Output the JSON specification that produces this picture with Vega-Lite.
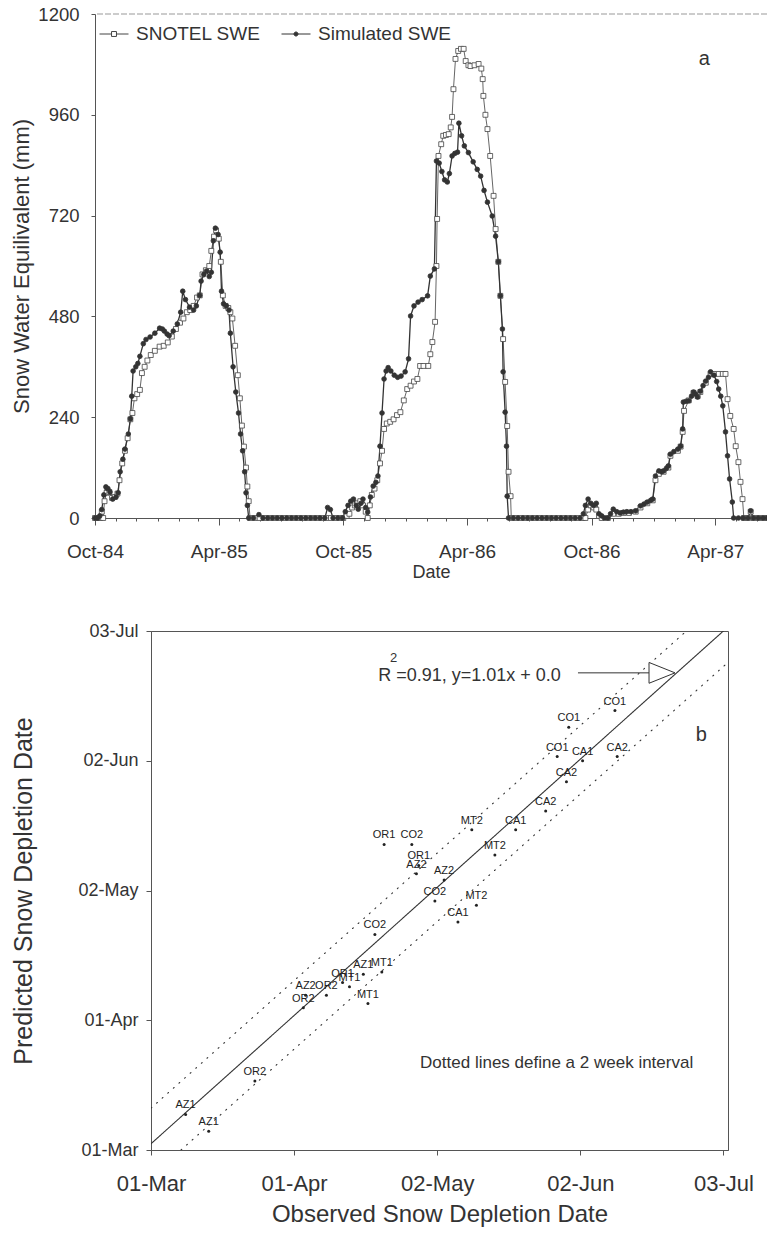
{
  "$schema": "https://vega.github.io/schema/vega-lite/v6.json",
  "padding": {"left": 10, "top": 5, "right": 0, "bottom": 0},
  "config": {
    "font": "Liberation Sans",
    "view": {"stroke": null},
    "axis": {"labelColor": "#333", "titleColor": "#333", "domainColor": "#555", "tickColor": "#555", "grid": false, "titleFontWeight": "normal", "labelFlush": false, "labelOverlap": false}
  },
  "datasets": {
    "swe": [
      {"date":"1984-10-01","swe":0,"series":"SNOTEL SWE"},{"date":"1984-10-05","swe":0,"series":"SNOTEL SWE"},{"date":"1984-10-09","swe":0,"series":"SNOTEL SWE"},{"date":"1984-10-11","swe":15,"series":"SNOTEL SWE"},{"date":"1984-10-13","swe":0,"series":"SNOTEL SWE"},{"date":"1984-10-15","swe":40,"series":"SNOTEL SWE"},{"date":"1984-10-18","swe":60,"series":"SNOTEL SWE"},{"date":"1984-10-22","swe":62,"series":"SNOTEL SWE"},{"date":"1984-10-26","swe":48,"series":"SNOTEL SWE"},{"date":"1984-10-30","swe":50,"series":"SNOTEL SWE"},{"date":"1984-11-03","swe":58,"series":"SNOTEL SWE"},{"date":"1984-11-06","swe":90,"series":"SNOTEL SWE"},{"date":"1984-11-10","swe":130,"series":"SNOTEL SWE"},{"date":"1984-11-14","swe":160,"series":"SNOTEL SWE"},{"date":"1984-11-18","swe":190,"series":"SNOTEL SWE"},{"date":"1984-11-22","swe":235,"series":"SNOTEL SWE"},{"date":"1984-11-25","swe":250,"series":"SNOTEL SWE"},{"date":"1984-11-28","swe":285,"series":"SNOTEL SWE"},{"date":"1984-12-02","swe":295,"series":"SNOTEL SWE"},{"date":"1984-12-06","swe":305,"series":"SNOTEL SWE"},{"date":"1984-12-09","swe":345,"series":"SNOTEL SWE"},{"date":"1984-12-13","swe":360,"series":"SNOTEL SWE"},{"date":"1984-12-17","swe":375,"series":"SNOTEL SWE"},{"date":"1984-12-22","swe":388,"series":"SNOTEL SWE"},{"date":"1984-12-28","swe":398,"series":"SNOTEL SWE"},{"date":"1985-01-04","swe":408,"series":"SNOTEL SWE"},{"date":"1985-01-10","swe":410,"series":"SNOTEL SWE"},{"date":"1985-01-16","swe":418,"series":"SNOTEL SWE"},{"date":"1985-01-22","swe":432,"series":"SNOTEL SWE"},{"date":"1985-01-28","swe":450,"series":"SNOTEL SWE"},{"date":"1985-02-03","swe":465,"series":"SNOTEL SWE"},{"date":"1985-02-08","swe":475,"series":"SNOTEL SWE"},{"date":"1985-02-13","swe":490,"series":"SNOTEL SWE"},{"date":"1985-02-18","swe":495,"series":"SNOTEL SWE"},{"date":"1985-02-23","swe":505,"series":"SNOTEL SWE"},{"date":"1985-02-28","swe":525,"series":"SNOTEL SWE"},{"date":"1985-03-04","swe":530,"series":"SNOTEL SWE"},{"date":"1985-03-08","swe":580,"series":"SNOTEL SWE"},{"date":"1985-03-13","swe":590,"series":"SNOTEL SWE"},{"date":"1985-03-18","swe":600,"series":"SNOTEL SWE"},{"date":"1985-03-21","swe":636,"series":"SNOTEL SWE"},{"date":"1985-03-25","swe":670,"series":"SNOTEL SWE"},{"date":"1985-03-28","swe":685,"series":"SNOTEL SWE"},{"date":"1985-04-01","swe":665,"series":"SNOTEL SWE"},{"date":"1985-04-04","swe":610,"series":"SNOTEL SWE"},{"date":"1985-04-07","swe":530,"series":"SNOTEL SWE"},{"date":"1985-04-11","swe":505,"series":"SNOTEL SWE"},{"date":"1985-04-15","swe":500,"series":"SNOTEL SWE"},{"date":"1985-04-18","swe":490,"series":"SNOTEL SWE"},{"date":"1985-04-21","swe":475,"series":"SNOTEL SWE"},{"date":"1985-04-25","swe":410,"series":"SNOTEL SWE"},{"date":"1985-04-29","swe":340,"series":"SNOTEL SWE"},{"date":"1985-05-02","swe":285,"series":"SNOTEL SWE"},{"date":"1985-05-05","swe":220,"series":"SNOTEL SWE"},{"date":"1985-05-08","swe":170,"series":"SNOTEL SWE"},{"date":"1985-05-11","swe":120,"series":"SNOTEL SWE"},{"date":"1985-05-13","swe":75,"series":"SNOTEL SWE"},{"date":"1985-05-15","swe":40,"series":"SNOTEL SWE"},{"date":"1985-05-17","swe":0,"series":"SNOTEL SWE"},
      {"date":"1985-05-24","swe":0,"series":"SNOTEL SWE"},{"date":"1985-05-31","swe":0,"series":"SNOTEL SWE"},{"date":"1985-06-07","swe":0,"series":"SNOTEL SWE"},{"date":"1985-06-14","swe":0,"series":"SNOTEL SWE"},{"date":"1985-06-21","swe":0,"series":"SNOTEL SWE"},{"date":"1985-06-28","swe":0,"series":"SNOTEL SWE"},{"date":"1985-07-05","swe":0,"series":"SNOTEL SWE"},{"date":"1985-07-12","swe":0,"series":"SNOTEL SWE"},{"date":"1985-07-19","swe":0,"series":"SNOTEL SWE"},{"date":"1985-07-26","swe":0,"series":"SNOTEL SWE"},{"date":"1985-08-02","swe":0,"series":"SNOTEL SWE"},{"date":"1985-08-09","swe":0,"series":"SNOTEL SWE"},{"date":"1985-08-16","swe":0,"series":"SNOTEL SWE"},{"date":"1985-08-23","swe":0,"series":"SNOTEL SWE"},{"date":"1985-08-30","swe":0,"series":"SNOTEL SWE"},{"date":"1985-09-06","swe":0,"series":"SNOTEL SWE"},{"date":"1985-09-13","swe":0,"series":"SNOTEL SWE"},{"date":"1985-09-20","swe":0,"series":"SNOTEL SWE"},{"date":"1985-09-27","swe":0,"series":"SNOTEL SWE"},
      {"date":"1985-10-01","swe":0,"series":"SNOTEL SWE"},{"date":"1985-10-06","swe":5,"series":"SNOTEL SWE"},{"date":"1985-10-10","swe":10,"series":"SNOTEL SWE"},{"date":"1985-10-14","swe":25,"series":"SNOTEL SWE"},{"date":"1985-10-18","swe":30,"series":"SNOTEL SWE"},{"date":"1985-10-22","swe":35,"series":"SNOTEL SWE"},{"date":"1985-10-26","swe":40,"series":"SNOTEL SWE"},{"date":"1985-10-30","swe":30,"series":"SNOTEL SWE"},{"date":"1985-11-03","swe":15,"series":"SNOTEL SWE"},{"date":"1985-11-06","swe":0,"series":"SNOTEL SWE"},{"date":"1985-11-09","swe":30,"series":"SNOTEL SWE"},{"date":"1985-11-12","swe":55,"series":"SNOTEL SWE"},{"date":"1985-11-16","swe":70,"series":"SNOTEL SWE"},{"date":"1985-11-20","swe":90,"series":"SNOTEL SWE"},{"date":"1985-11-24","swe":130,"series":"SNOTEL SWE"},{"date":"1985-11-27","swe":160,"series":"SNOTEL SWE"},{"date":"1985-11-30","swe":212,"series":"SNOTEL SWE"},{"date":"1985-12-04","swe":225,"series":"SNOTEL SWE"},{"date":"1985-12-09","swe":229,"series":"SNOTEL SWE"},{"date":"1985-12-14","swe":235,"series":"SNOTEL SWE"},{"date":"1985-12-19","swe":245,"series":"SNOTEL SWE"},{"date":"1985-12-24","swe":252,"series":"SNOTEL SWE"},{"date":"1985-12-29","swe":280,"series":"SNOTEL SWE"},{"date":"1986-01-03","swe":307,"series":"SNOTEL SWE"},{"date":"1986-01-08","swe":315,"series":"SNOTEL SWE"},{"date":"1986-01-13","swe":325,"series":"SNOTEL SWE"},{"date":"1986-01-18","swe":331,"series":"SNOTEL SWE"},{"date":"1986-01-22","swe":362,"series":"SNOTEL SWE"},{"date":"1986-01-27","swe":362,"series":"SNOTEL SWE"},{"date":"1986-02-03","swe":362,"series":"SNOTEL SWE"},{"date":"1986-02-06","swe":390,"series":"SNOTEL SWE"},{"date":"1986-02-09","swe":419,"series":"SNOTEL SWE"},{"date":"1986-02-13","swe":467,"series":"SNOTEL SWE"},{"date":"1986-02-15","swe":600,"series":"SNOTEL SWE"},{"date":"1986-02-16","swe":712,"series":"SNOTEL SWE"},{"date":"1986-02-18","swe":862,"series":"SNOTEL SWE"},{"date":"1986-02-22","swe":890,"series":"SNOTEL SWE"},{"date":"1986-02-25","swe":910,"series":"SNOTEL SWE"},{"date":"1986-03-01","swe":912,"series":"SNOTEL SWE"},{"date":"1986-03-05","swe":914,"series":"SNOTEL SWE"},{"date":"1986-03-08","swe":930,"series":"SNOTEL SWE"},{"date":"1986-03-10","swe":955,"series":"SNOTEL SWE"},{"date":"1986-03-12","swe":1021,"series":"SNOTEL SWE"},{"date":"1986-03-15","swe":1093,"series":"SNOTEL SWE"},{"date":"1986-03-19","swe":1112,"series":"SNOTEL SWE"},{"date":"1986-03-23","swe":1117,"series":"SNOTEL SWE"},{"date":"1986-03-27","swe":1117,"series":"SNOTEL SWE"},{"date":"1986-03-30","swe":1088,"series":"SNOTEL SWE"},{"date":"1986-04-03","swe":1078,"series":"SNOTEL SWE"},{"date":"1986-04-06","swe":1076,"series":"SNOTEL SWE"},{"date":"1986-04-12","swe":1078,"series":"SNOTEL SWE"},{"date":"1986-04-18","swe":1081,"series":"SNOTEL SWE"},{"date":"1986-04-22","swe":1070,"series":"SNOTEL SWE"},{"date":"1986-04-24","swe":1045,"series":"SNOTEL SWE"},{"date":"1986-04-25","swe":1005,"series":"SNOTEL SWE"},{"date":"1986-04-28","swe":960,"series":"SNOTEL SWE"},{"date":"1986-05-01","swe":926,"series":"SNOTEL SWE"},{"date":"1986-05-05","swe":862,"series":"SNOTEL SWE"},{"date":"1986-05-10","swe":767,"series":"SNOTEL SWE"},{"date":"1986-05-13","swe":688,"series":"SNOTEL SWE"},{"date":"1986-05-17","swe":610,"series":"SNOTEL SWE"},{"date":"1986-05-20","swe":529,"series":"SNOTEL SWE"},{"date":"1986-05-24","swe":426,"series":"SNOTEL SWE"},{"date":"1986-05-27","swe":324,"series":"SNOTEL SWE"},{"date":"1986-05-30","swe":219,"series":"SNOTEL SWE"},{"date":"1986-06-01","swe":110,"series":"SNOTEL SWE"},{"date":"1986-06-04","swe":52,"series":"SNOTEL SWE"},{"date":"1986-06-05","swe":0,"series":"SNOTEL SWE"},
      {"date":"1986-06-12","swe":0,"series":"SNOTEL SWE"},{"date":"1986-06-19","swe":0,"series":"SNOTEL SWE"},{"date":"1986-06-26","swe":0,"series":"SNOTEL SWE"},{"date":"1986-07-03","swe":0,"series":"SNOTEL SWE"},{"date":"1986-07-10","swe":0,"series":"SNOTEL SWE"},{"date":"1986-07-17","swe":0,"series":"SNOTEL SWE"},{"date":"1986-07-24","swe":0,"series":"SNOTEL SWE"},{"date":"1986-07-31","swe":0,"series":"SNOTEL SWE"},{"date":"1986-08-07","swe":0,"series":"SNOTEL SWE"},{"date":"1986-08-14","swe":0,"series":"SNOTEL SWE"},{"date":"1986-08-21","swe":0,"series":"SNOTEL SWE"},{"date":"1986-08-28","swe":0,"series":"SNOTEL SWE"},{"date":"1986-09-04","swe":0,"series":"SNOTEL SWE"},{"date":"1986-09-11","swe":0,"series":"SNOTEL SWE"},{"date":"1986-09-18","swe":0,"series":"SNOTEL SWE"},
      {"date":"1986-09-22","swe":0,"series":"SNOTEL SWE"},{"date":"1986-09-26","swe":20,"series":"SNOTEL SWE"},{"date":"1986-09-30","swe":30,"series":"SNOTEL SWE"},{"date":"1986-10-04","swe":25,"series":"SNOTEL SWE"},{"date":"1986-10-08","swe":20,"series":"SNOTEL SWE"},{"date":"1986-10-12","swe":5,"series":"SNOTEL SWE"},{"date":"1986-10-16","swe":0,"series":"SNOTEL SWE"},{"date":"1986-10-25","swe":0,"series":"SNOTEL SWE"},{"date":"1986-11-02","swe":10,"series":"SNOTEL SWE"},{"date":"1986-11-10","swe":10,"series":"SNOTEL SWE"},{"date":"1986-11-17","swe":12,"series":"SNOTEL SWE"},{"date":"1986-11-25","swe":12,"series":"SNOTEL SWE"},{"date":"1986-12-05","swe":15,"series":"SNOTEL SWE"},{"date":"1986-12-12","swe":25,"series":"SNOTEL SWE"},{"date":"1986-12-22","swe":35,"series":"SNOTEL SWE"},{"date":"1986-12-30","swe":42,"series":"SNOTEL SWE"},{"date":"1987-01-03","swe":90,"series":"SNOTEL SWE"},{"date":"1987-01-08","swe":105,"series":"SNOTEL SWE"},{"date":"1987-01-15","swe":110,"series":"SNOTEL SWE"},{"date":"1987-01-22","swe":120,"series":"SNOTEL SWE"},{"date":"1987-01-25","swe":148,"series":"SNOTEL SWE"},{"date":"1987-02-05","swe":160,"series":"SNOTEL SWE"},{"date":"1987-02-09","swe":170,"series":"SNOTEL SWE"},{"date":"1987-02-12","swe":205,"series":"SNOTEL SWE"},{"date":"1987-02-14","swe":255,"series":"SNOTEL SWE"},{"date":"1987-02-21","swe":280,"series":"SNOTEL SWE"},{"date":"1987-02-28","swe":298,"series":"SNOTEL SWE"},{"date":"1987-03-06","swe":290,"series":"SNOTEL SWE"},{"date":"1987-03-10","swe":300,"series":"SNOTEL SWE"},{"date":"1987-03-18","swe":322,"series":"SNOTEL SWE"},{"date":"1987-03-25","swe":343,"series":"SNOTEL SWE"},{"date":"1987-03-30","swe":343,"series":"SNOTEL SWE"},{"date":"1987-04-06","swe":343,"series":"SNOTEL SWE"},{"date":"1987-04-12","swe":343,"series":"SNOTEL SWE"},{"date":"1987-04-16","swe":343,"series":"SNOTEL SWE"},{"date":"1987-04-19","swe":283,"series":"SNOTEL SWE"},{"date":"1987-04-23","swe":243,"series":"SNOTEL SWE"},{"date":"1987-04-28","swe":212,"series":"SNOTEL SWE"},{"date":"1987-05-01","swe":171,"series":"SNOTEL SWE"},{"date":"1987-05-05","swe":133,"series":"SNOTEL SWE"},{"date":"1987-05-08","swe":86,"series":"SNOTEL SWE"},{"date":"1987-05-11","swe":45,"series":"SNOTEL SWE"},{"date":"1987-05-13","swe":0,"series":"SNOTEL SWE"},{"date":"1987-05-19","swe":0,"series":"SNOTEL SWE"},{"date":"1987-05-23","swe":15,"series":"SNOTEL SWE"},{"date":"1987-05-27","swe":0,"series":"SNOTEL SWE"},{"date":"1987-06-03","swe":0,"series":"SNOTEL SWE"},{"date":"1987-06-10","swe":0,"series":"SNOTEL SWE"},{"date":"1987-06-16","swe":0,"series":"SNOTEL SWE"},

      {"date":"1984-10-01","swe":0,"series":"Simulated SWE"},{"date":"1984-10-05","swe":0,"series":"Simulated SWE"},{"date":"1984-10-08","swe":5,"series":"Simulated SWE"},{"date":"1984-10-11","swe":20,"series":"Simulated SWE"},{"date":"1984-10-14","swe":55,"series":"Simulated SWE"},{"date":"1984-10-17","swe":74,"series":"Simulated SWE"},{"date":"1984-10-20","swe":70,"series":"Simulated SWE"},{"date":"1984-10-23","swe":62,"series":"Simulated SWE"},{"date":"1984-10-27","swe":45,"series":"Simulated SWE"},{"date":"1984-11-01","swe":50,"series":"Simulated SWE"},{"date":"1984-11-04","swe":60,"series":"Simulated SWE"},{"date":"1984-11-07","swe":110,"series":"Simulated SWE"},{"date":"1984-11-11","swe":140,"series":"Simulated SWE"},{"date":"1984-11-14","swe":164,"series":"Simulated SWE"},{"date":"1984-11-19","swe":200,"series":"Simulated SWE"},{"date":"1984-11-22","swe":236,"series":"Simulated SWE"},{"date":"1984-11-24","swe":290,"series":"Simulated SWE"},{"date":"1984-11-26","swe":350,"series":"Simulated SWE"},{"date":"1984-11-30","swe":360,"series":"Simulated SWE"},{"date":"1984-12-03","swe":368,"series":"Simulated SWE"},{"date":"1984-12-06","swe":385,"series":"Simulated SWE"},{"date":"1984-12-11","swe":415,"series":"Simulated SWE"},{"date":"1984-12-15","swe":425,"series":"Simulated SWE"},{"date":"1984-12-21","swe":431,"series":"Simulated SWE"},{"date":"1984-12-28","swe":440,"series":"Simulated SWE"},{"date":"1985-01-04","swe":452,"series":"Simulated SWE"},{"date":"1985-01-08","swe":450,"series":"Simulated SWE"},{"date":"1985-01-11","swe":445,"series":"Simulated SWE"},{"date":"1985-01-15","swe":438,"series":"Simulated SWE"},{"date":"1985-01-18","swe":434,"series":"Simulated SWE"},{"date":"1985-01-24","swe":445,"series":"Simulated SWE"},{"date":"1985-01-30","swe":462,"series":"Simulated SWE"},{"date":"1985-02-04","swe":490,"series":"Simulated SWE"},{"date":"1985-02-07","swe":540,"series":"Simulated SWE"},{"date":"1985-02-11","swe":520,"series":"Simulated SWE"},{"date":"1985-02-17","swe":502,"series":"Simulated SWE"},{"date":"1985-02-23","swe":495,"series":"Simulated SWE"},{"date":"1985-02-27","swe":505,"series":"Simulated SWE"},{"date":"1985-03-04","swe":530,"series":"Simulated SWE"},{"date":"1985-03-06","swe":564,"series":"Simulated SWE"},{"date":"1985-03-10","swe":580,"series":"Simulated SWE"},{"date":"1985-03-14","swe":588,"series":"Simulated SWE"},{"date":"1985-03-18","swe":575,"series":"Simulated SWE"},{"date":"1985-03-21","swe":585,"series":"Simulated SWE"},{"date":"1985-03-24","swe":660,"series":"Simulated SWE"},{"date":"1985-03-27","swe":690,"series":"Simulated SWE"},{"date":"1985-03-31","swe":675,"series":"Simulated SWE"},{"date":"1985-04-03","swe":633,"series":"Simulated SWE"},{"date":"1985-04-05","swe":540,"series":"Simulated SWE"},{"date":"1985-04-08","swe":510,"series":"Simulated SWE"},{"date":"1985-04-12","swe":505,"series":"Simulated SWE"},{"date":"1985-04-16","swe":495,"series":"Simulated SWE"},{"date":"1985-04-18","swe":440,"series":"Simulated SWE"},{"date":"1985-04-22","swe":360,"series":"Simulated SWE"},{"date":"1985-04-26","swe":300,"series":"Simulated SWE"},{"date":"1985-04-30","swe":250,"series":"Simulated SWE"},{"date":"1985-05-03","swe":200,"series":"Simulated SWE"},{"date":"1985-05-06","swe":160,"series":"Simulated SWE"},{"date":"1985-05-09","swe":110,"series":"Simulated SWE"},{"date":"1985-05-11","swe":60,"series":"Simulated SWE"},{"date":"1985-05-13","swe":30,"series":"Simulated SWE"},{"date":"1985-05-15","swe":0,"series":"Simulated SWE"},
      {"date":"1985-05-22","swe":0,"series":"Simulated SWE"},{"date":"1985-05-30","swe":8,"series":"Simulated SWE"},{"date":"1985-06-05","swe":0,"series":"Simulated SWE"},{"date":"1985-06-12","swe":0,"series":"Simulated SWE"},{"date":"1985-06-19","swe":0,"series":"Simulated SWE"},{"date":"1985-06-26","swe":0,"series":"Simulated SWE"},{"date":"1985-07-03","swe":0,"series":"Simulated SWE"},{"date":"1985-07-10","swe":0,"series":"Simulated SWE"},{"date":"1985-07-17","swe":0,"series":"Simulated SWE"},{"date":"1985-07-24","swe":0,"series":"Simulated SWE"},{"date":"1985-07-31","swe":0,"series":"Simulated SWE"},{"date":"1985-08-07","swe":0,"series":"Simulated SWE"},{"date":"1985-08-14","swe":0,"series":"Simulated SWE"},{"date":"1985-08-21","swe":0,"series":"Simulated SWE"},{"date":"1985-08-28","swe":0,"series":"Simulated SWE"},{"date":"1985-09-04","swe":0,"series":"Simulated SWE"},{"date":"1985-09-08","swe":25,"series":"Simulated SWE"},{"date":"1985-09-12","swe":20,"series":"Simulated SWE"},{"date":"1985-09-16","swe":0,"series":"Simulated SWE"},{"date":"1985-09-23","swe":0,"series":"Simulated SWE"},{"date":"1985-09-30","swe":0,"series":"Simulated SWE"},
      {"date":"1985-10-04","swe":15,"series":"Simulated SWE"},{"date":"1985-10-08","swe":30,"series":"Simulated SWE"},{"date":"1985-10-12","swe":40,"series":"Simulated SWE"},{"date":"1985-10-16","swe":45,"series":"Simulated SWE"},{"date":"1985-10-20","swe":30,"series":"Simulated SWE"},{"date":"1985-10-23","swe":21,"series":"Simulated SWE"},{"date":"1985-10-27","swe":35,"series":"Simulated SWE"},{"date":"1985-10-30","swe":45,"series":"Simulated SWE"},{"date":"1985-11-03","swe":25,"series":"Simulated SWE"},{"date":"1985-11-06","swe":14,"series":"Simulated SWE"},{"date":"1985-11-10","swe":50,"series":"Simulated SWE"},{"date":"1985-11-14","swe":76,"series":"Simulated SWE"},{"date":"1985-11-18","swe":85,"series":"Simulated SWE"},{"date":"1985-11-21","swe":100,"series":"Simulated SWE"},{"date":"1985-11-24","swe":171,"series":"Simulated SWE"},{"date":"1985-11-27","swe":250,"series":"Simulated SWE"},{"date":"1985-11-30","swe":331,"series":"Simulated SWE"},{"date":"1985-12-03","swe":350,"series":"Simulated SWE"},{"date":"1985-12-06","swe":358,"series":"Simulated SWE"},{"date":"1985-12-10","swe":350,"series":"Simulated SWE"},{"date":"1985-12-15","swe":340,"series":"Simulated SWE"},{"date":"1985-12-20","swe":335,"series":"Simulated SWE"},{"date":"1985-12-25","swe":338,"series":"Simulated SWE"},{"date":"1985-12-31","swe":348,"series":"Simulated SWE"},{"date":"1986-01-05","swe":379,"series":"Simulated SWE"},{"date":"1986-01-08","swe":481,"series":"Simulated SWE"},{"date":"1986-01-13","swe":505,"series":"Simulated SWE"},{"date":"1986-01-19","swe":514,"series":"Simulated SWE"},{"date":"1986-01-25","swe":520,"series":"Simulated SWE"},{"date":"1986-02-02","swe":529,"series":"Simulated SWE"},{"date":"1986-02-06","swe":576,"series":"Simulated SWE"},{"date":"1986-02-12","swe":593,"series":"Simulated SWE"},{"date":"1986-02-15","swe":850,"series":"Simulated SWE"},{"date":"1986-02-19","swe":845,"series":"Simulated SWE"},{"date":"1986-02-23","swe":825,"series":"Simulated SWE"},{"date":"1986-02-27","swe":805,"series":"Simulated SWE"},{"date":"1986-03-03","swe":800,"series":"Simulated SWE"},{"date":"1986-03-06","swe":820,"series":"Simulated SWE"},{"date":"1986-03-10","swe":862,"series":"Simulated SWE"},{"date":"1986-03-14","swe":868,"series":"Simulated SWE"},{"date":"1986-03-18","swe":871,"series":"Simulated SWE"},{"date":"1986-03-20","swe":940,"series":"Simulated SWE"},{"date":"1986-03-24","swe":910,"series":"Simulated SWE"},{"date":"1986-03-28","swe":886,"series":"Simulated SWE"},{"date":"1986-04-03","swe":870,"series":"Simulated SWE"},{"date":"1986-04-10","swe":848,"series":"Simulated SWE"},{"date":"1986-04-16","swe":830,"series":"Simulated SWE"},{"date":"1986-04-21","swe":814,"series":"Simulated SWE"},{"date":"1986-04-26","swe":780,"series":"Simulated SWE"},{"date":"1986-05-01","swe":752,"series":"Simulated SWE"},{"date":"1986-05-08","swe":719,"series":"Simulated SWE"},{"date":"1986-05-13","swe":671,"series":"Simulated SWE"},{"date":"1986-05-17","swe":610,"series":"Simulated SWE"},{"date":"1986-05-20","swe":529,"series":"Simulated SWE"},{"date":"1986-05-23","swe":450,"series":"Simulated SWE"},{"date":"1986-05-24","swe":348,"series":"Simulated SWE"},{"date":"1986-05-27","swe":252,"series":"Simulated SWE"},{"date":"1986-05-29","swe":171,"series":"Simulated SWE"},{"date":"1986-05-30","swe":52,"series":"Simulated SWE"},{"date":"1986-06-01","swe":0,"series":"Simulated SWE"},
      {"date":"1986-06-08","swe":0,"series":"Simulated SWE"},{"date":"1986-06-15","swe":0,"series":"Simulated SWE"},{"date":"1986-06-22","swe":0,"series":"Simulated SWE"},{"date":"1986-06-29","swe":0,"series":"Simulated SWE"},{"date":"1986-07-06","swe":0,"series":"Simulated SWE"},{"date":"1986-07-13","swe":0,"series":"Simulated SWE"},{"date":"1986-07-20","swe":0,"series":"Simulated SWE"},{"date":"1986-07-27","swe":0,"series":"Simulated SWE"},{"date":"1986-08-03","swe":0,"series":"Simulated SWE"},{"date":"1986-08-10","swe":0,"series":"Simulated SWE"},{"date":"1986-08-17","swe":0,"series":"Simulated SWE"},{"date":"1986-08-24","swe":0,"series":"Simulated SWE"},{"date":"1986-08-31","swe":0,"series":"Simulated SWE"},{"date":"1986-09-07","swe":0,"series":"Simulated SWE"},{"date":"1986-09-14","swe":0,"series":"Simulated SWE"},
      {"date":"1986-09-19","swe":10,"series":"Simulated SWE"},{"date":"1986-09-22","swe":30,"series":"Simulated SWE"},{"date":"1986-09-26","swe":45,"series":"Simulated SWE"},{"date":"1986-09-30","swe":35,"series":"Simulated SWE"},{"date":"1986-10-04","swe":30,"series":"Simulated SWE"},{"date":"1986-10-08","swe":35,"series":"Simulated SWE"},{"date":"1986-10-12","swe":10,"series":"Simulated SWE"},{"date":"1986-10-16","swe":5,"series":"Simulated SWE"},{"date":"1986-10-20","swe":0,"series":"Simulated SWE"},{"date":"1986-10-25","swe":0,"series":"Simulated SWE"},{"date":"1986-10-29","swe":10,"series":"Simulated SWE"},{"date":"1986-11-02","swe":21,"series":"Simulated SWE"},{"date":"1986-11-07","swe":15,"series":"Simulated SWE"},{"date":"1986-11-12","swe":12,"series":"Simulated SWE"},{"date":"1986-11-17","swe":14,"series":"Simulated SWE"},{"date":"1986-11-22","swe":15,"series":"Simulated SWE"},{"date":"1986-11-28","swe":15,"series":"Simulated SWE"},{"date":"1986-12-05","swe":17,"series":"Simulated SWE"},{"date":"1986-12-12","swe":29,"series":"Simulated SWE"},{"date":"1986-12-17","swe":33,"series":"Simulated SWE"},{"date":"1986-12-22","swe":38,"series":"Simulated SWE"},{"date":"1986-12-27","swe":42,"series":"Simulated SWE"},{"date":"1986-12-30","swe":45,"series":"Simulated SWE"},{"date":"1987-01-03","swe":100,"series":"Simulated SWE"},{"date":"1987-01-08","swe":112,"series":"Simulated SWE"},{"date":"1987-01-12","swe":110,"series":"Simulated SWE"},{"date":"1987-01-15","swe":112,"series":"Simulated SWE"},{"date":"1987-01-19","swe":118,"series":"Simulated SWE"},{"date":"1987-01-22","swe":124,"series":"Simulated SWE"},{"date":"1987-01-25","swe":152,"series":"Simulated SWE"},{"date":"1987-01-30","swe":158,"series":"Simulated SWE"},{"date":"1987-02-05","swe":164,"series":"Simulated SWE"},{"date":"1987-02-09","swe":171,"series":"Simulated SWE"},{"date":"1987-02-12","swe":212,"series":"Simulated SWE"},{"date":"1987-02-13","swe":276,"series":"Simulated SWE"},{"date":"1987-02-17","swe":278,"series":"Simulated SWE"},{"date":"1987-02-21","swe":279,"series":"Simulated SWE"},{"date":"1987-02-25","swe":290,"series":"Simulated SWE"},{"date":"1987-02-28","swe":300,"series":"Simulated SWE"},{"date":"1987-03-03","swe":295,"series":"Simulated SWE"},{"date":"1987-03-06","swe":288,"series":"Simulated SWE"},{"date":"1987-03-10","swe":302,"series":"Simulated SWE"},{"date":"1987-03-14","swe":315,"series":"Simulated SWE"},{"date":"1987-03-18","swe":326,"series":"Simulated SWE"},{"date":"1987-03-22","swe":335,"series":"Simulated SWE"},{"date":"1987-03-25","swe":348,"series":"Simulated SWE"},{"date":"1987-03-30","swe":340,"series":"Simulated SWE"},{"date":"1987-04-03","swe":325,"series":"Simulated SWE"},{"date":"1987-04-06","swe":307,"series":"Simulated SWE"},{"date":"1987-04-09","swe":290,"series":"Simulated SWE"},{"date":"1987-04-12","swe":267,"series":"Simulated SWE"},{"date":"1987-04-16","swe":205,"series":"Simulated SWE"},{"date":"1987-04-19","swe":148,"series":"Simulated SWE"},{"date":"1987-04-22","swe":93,"series":"Simulated SWE"},{"date":"1987-04-26","swe":38,"series":"Simulated SWE"},{"date":"1987-04-28","swe":0,"series":"Simulated SWE"},{"date":"1987-05-05","swe":0,"series":"Simulated SWE"},{"date":"1987-05-12","swe":0,"series":"Simulated SWE"},{"date":"1987-05-19","swe":0,"series":"Simulated SWE"},{"date":"1987-05-23","swe":17,"series":"Simulated SWE"},{"date":"1987-05-27","swe":0,"series":"Simulated SWE"},{"date":"1987-06-03","swe":0,"series":"Simulated SWE"},{"date":"1987-06-10","swe":0,"series":"Simulated SWE"},{"date":"1987-06-16","swe":0,"series":"Simulated SWE"}
    ],
    "sites": [
      {"site":"AZ1","observed":"1985-03-08T12:00:00Z","predicted":"1985-03-09T12:00:00Z"},
      {"site":"AZ1","observed":"1985-03-13T12:00:00Z","predicted":"1985-03-05T12:00:00Z"},
      {"site":"AZ1","observed":"1985-04-16","predicted":"1985-04-12"},
      {"site":"AZ2","observed":"1985-04-03T12:00:00Z","predicted":"1985-04-07"},
      {"site":"AZ2","observed":"1985-04-27T12:00:00Z","predicted":"1985-05-06"},
      {"site":"AZ2","observed":"1985-05-03T12:00:00Z","predicted":"1985-05-04T12:00:00Z"},
      {"site":"CA1","observed":"1985-05-06T12:00:00Z","predicted":"1985-04-24T12:00:00Z"},
      {"site":"CA1","observed":"1985-05-19","predicted":"1985-05-16T12:00:00Z"},
      {"site":"CA1","observed":"1985-06-02T12:00:00Z","predicted":"1985-06-02"},
      {"site":"CA2","observed":"1985-06-10","predicted":"1985-06-03"},
      {"site":"CA2","observed":"1985-05-30","predicted":"1985-05-28"},
      {"site":"CA2","observed":"1985-05-25T12:00:00Z","predicted":"1985-05-21"},
      {"site":"CO1","observed":"1985-06-09T12:00:00Z","predicted":"1985-06-14"},
      {"site":"CO1","observed":"1985-05-30T12:00:00Z","predicted":"1985-06-10"},
      {"site":"CO1","observed":"1985-05-28","predicted":"1985-06-03"},
      {"site":"CO2","observed":"1985-04-26T12:00:00Z","predicted":"1985-05-13"},
      {"site":"CO2","observed":"1985-05-01T12:00:00Z","predicted":"1985-04-29T12:00:00Z"},
      {"site":"CO2","observed":"1985-04-18T12:00:00Z","predicted":"1985-04-21T12:00:00Z"},
      {"site":"MT1","observed":"1985-04-20","predicted":"1985-04-12T12:00:00Z"},
      {"site":"MT1","observed":"1985-04-13","predicted":"1985-04-09"},
      {"site":"MT1","observed":"1985-04-17","predicted":"1985-04-05"},
      {"site":"MT2","observed":"1985-05-10T12:00:00Z","predicted":"1985-04-28T12:00:00Z"},
      {"site":"MT2","observed":"1985-05-14T12:00:00Z","predicted":"1985-05-10T12:00:00Z"},
      {"site":"MT2","observed":"1985-05-09T12:00:00Z","predicted":"1985-05-16T12:00:00Z"},
      {"site":"OR1","observed":"1985-04-20T12:00:00Z","predicted":"1985-05-13"},
      {"site":"OR1","observed":"1985-04-28","predicted":"1985-05-08"},
      {"site":"OR1","observed":"1985-04-11T12:00:00Z","predicted":"1985-04-10"},
      {"site":"OR2","observed":"1985-03-23T12:00:00Z","predicted":"1985-03-17T12:00:00Z"},
      {"site":"OR2","observed":"1985-04-03","predicted":"1985-04-04"},
      {"site":"OR2","observed":"1985-04-08","predicted":"1985-04-07"}
    ],
    "fitlines": [
      {"line":"fit","observed":"1985-03-01","predicted":"1985-03-02T12:00:00Z"},
      {"line":"fit","observed":"1985-07-03","predicted":"1985-07-03"},
      {"line":"upper","observed":"1985-03-01","predicted":"1985-03-11"},
      {"line":"upper","observed":"1985-06-25","predicted":"1985-07-03"},
      {"line":"lower","observed":"1985-03-07T12:00:00Z","predicted":"1985-03-01"},
      {"line":"lower","observed":"1985-07-04","predicted":"1985-06-25T12:00:00Z"}
    ]
  },
  "spacing": 40,
  "vconcat": [
    {
      "width": 672,
      "height": 504,
      "layer": [
        {
          "data": {"values": [{}]},
          "mark": {"type": "rule", "color": "#999", "strokeDash": [6, 2], "strokeWidth": 1},
          "encoding": {"y": {"datum": 1200, "type": "quantitative", "scale": {"domain": [0, 1200], "nice": false}}}
        },
        {
          "data": {"name": "swe"},
          "transform": [{"filter": "datum.series === 'SNOTEL SWE'"}],
          "mark": {"type": "line", "strokeWidth": 1, "color": "#666"},
          "encoding": {
            "x": {"field": "date", "type": "temporal",
              "scale": {"type": "utc", "domain": [{"year": 1984, "month": 10, "date": 1, "utc": true}, {"year": 1987, "month": 6, "date": 16, "utc": true}], "nice": false},
              "axis": {"title": "Date", "titleFontSize": 18, "labelFontSize": 19, "tickCount": {"interval": "month", "step": 1},
                "labelExpr": "(utcmonth(datum.value) == 3 || utcmonth(datum.value) == 9) ? utcFormat(datum.value, '%b-%y') : ''",
                "tickSize": {"condition": {"test": "utcmonth(datum.value) == 3 || utcmonth(datum.value) == 9", "value": 7}, "value": 3},
                "labelPadding": 17, "titlePadding": 2}},
            "y": {"field": "swe", "type": "quantitative", "scale": {"domain": [0, 1200], "nice": false},
              "axis": {"title": "Snow Water Equilivalent (mm)", "titleFontSize": 22, "labelFontSize": 18.5, "format": "d", "values": [0, 240, 480, 720, 960, 1200], "tickSize": 4, "labelPadding": 12, "titlePadding": 4}}
          }
        },
        {
          "data": {"name": "swe"},
          "transform": [{"filter": "datum.series === 'Simulated SWE'"}],
          "mark": {"type": "line", "strokeWidth": 1.3, "color": "#333"},
          "encoding": {
            "x": {"field": "date", "type": "temporal", "scale": {"type": "utc", "domain": [{"year": 1984, "month": 10, "date": 1, "utc": true}, {"year": 1987, "month": 6, "date": 16, "utc": true}], "nice": false}},
            "y": {"field": "swe", "type": "quantitative", "scale": {"domain": [0, 1200], "nice": false}}
          }
        },
        {
          "data": {"name": "swe"},
          "transform": [{"filter": "datum.series === 'SNOTEL SWE'"}],
          "mark": {"type": "point", "shape": "square", "filled": true, "fill": "#ffffff", "stroke": "#444", "strokeWidth": 0.8, "opacity": 1, "size": 24},
          "encoding": {
            "x": {"field": "date", "type": "temporal", "scale": {"type": "utc", "domain": [{"year": 1984, "month": 10, "date": 1, "utc": true}, {"year": 1987, "month": 6, "date": 16, "utc": true}], "nice": false}},
            "y": {"field": "swe", "type": "quantitative", "scale": {"domain": [0, 1200], "nice": false}}
          }
        },
        {
          "data": {"name": "swe"},
          "transform": [{"filter": "datum.series === 'Simulated SWE'"}],
          "mark": {"type": "point", "shape": "circle", "filled": true, "fill": "#333333", "stroke": "#333", "strokeWidth": 0.8, "opacity": 1, "size": 22},
          "encoding": {
            "x": {"field": "date", "type": "temporal", "scale": {"type": "utc", "domain": [{"year": 1984, "month": 10, "date": 1, "utc": true}, {"year": 1987, "month": 6, "date": 16, "utc": true}], "nice": false}},
            "y": {"field": "swe", "type": "quantitative", "scale": {"domain": [0, 1200], "nice": false}}
          }
        },
        {
          "data": {"name": "swe"},
          "transform": [{"filter": "false"}],
          "mark": {"type": "point", "filled": false, "strokeWidth": 1, "opacity": 1},
          "encoding": {
            "x": {"field": "date", "type": "temporal", "scale": {"type": "utc", "domain": [{"year": 1984, "month": 10, "date": 1, "utc": true}, {"year": 1987, "month": 6, "date": 16, "utc": true}], "nice": false}},
            "y": {"field": "swe", "type": "quantitative", "scale": {"domain": [0, 1200], "nice": false}},
            "shape": {"field": "series", "type": "nominal",
              "scale": {"domain": ["SNOTEL SWE", "Simulated SWE"], "range": ["M-1,0H-0.17M0.17,0H1M-0.17,-0.17H0.17V0.17H-0.17Z", "M-1,0H-0.14M0.14,0H1M-0.14,0A0.14,0.14,0,1,0,0.14,0A0.14,0.14,0,1,0,-0.14,0Z"]},
              "legend": {"title": null, "orient": "none", "legendX": 4, "legendY": 5, "direction": "horizontal", "labelFontSize": 19, "labelColor": "#333", "symbolSize": 841, "labelOffset": 7, "columnPadding": 18, "symbolStrokeWidth": 1, "symbolOpacity": 1}},
            "fill": {"field": "series", "type": "nominal",
              "scale": {"domain": ["SNOTEL SWE", "Simulated SWE"], "range": ["#ffffff", "#333333"]},
              "legend": {"title": null, "orient": "none", "legendX": 4, "legendY": 5, "direction": "horizontal", "labelFontSize": 19, "labelColor": "#333", "symbolSize": 841, "labelOffset": 7, "columnPadding": 18, "symbolStrokeWidth": 1, "symbolOpacity": 1}},
            "stroke": {"field": "series", "type": "nominal",
              "scale": {"domain": ["SNOTEL SWE", "Simulated SWE"], "range": ["#444444", "#333333"]},
              "legend": {"title": null, "orient": "none", "legendX": 4, "legendY": 5, "direction": "horizontal", "labelFontSize": 19, "labelColor": "#333", "symbolSize": 841, "labelOffset": 7, "columnPadding": 18, "symbolStrokeWidth": 1, "symbolOpacity": 1}}
          }
        },
        {
          "data": {"values": [{"date": "1987-03-16", "swe": 1093, "label": "a"}]},
          "mark": {"type": "text", "fontSize": 20, "color": "#333", "align": "center", "baseline": "middle"},
          "encoding": {
            "x": {"field": "date", "type": "temporal", "scale": {"type": "utc", "domain": [{"year": 1984, "month": 10, "date": 1, "utc": true}, {"year": 1987, "month": 6, "date": 16, "utc": true}], "nice": false}},
            "y": {"field": "swe", "type": "quantitative", "scale": {"domain": [0, 1200], "nice": false}},
            "text": {"field": "label"}
          }
        }
      ]
    },
    {
      "bounds": "flush",
      "spacing": 0,
      "hconcat": [
        {
          "width": 56,
          "height": 519,
          "data": {"values": [{}]},
          "mark": {"type": "point", "opacity": 0},
          "encoding": {}
        },
        {
          "width": 577,
          "height": 519,
          "view": {"stroke": "#555", "strokeWidth": 1},
          "encoding": {
            "x": {"field": "observed", "type": "temporal",
              "scale": {"type": "utc", "domain": [{"year": 1985, "month": 3, "date": 1, "utc": true}, {"year": 1985, "month": 7, "date": 4, "utc": true}], "nice": false},
              "axis": {"title": "Observed Snow Depletion Date", "titleFontSize": 24, "labelFontSize": 22, "tickSize": 5, "labelPadding": 18, "titlePadding": 8,
                "values": [{"year": 1985, "month": 3, "date": 1, "utc": true}, {"year": 1985, "month": 4, "date": 1, "utc": true}, {"year": 1985, "month": 5, "date": 2, "utc": true}, {"year": 1985, "month": 6, "date": 2, "utc": true}, {"year": 1985, "month": 7, "date": 3, "utc": true}],
                "labelExpr": "utcFormat(datum.value, '%d-%b')"}},
            "y": {"field": "predicted", "type": "temporal",
              "scale": {"type": "utc", "domain": [{"year": 1985, "month": 3, "date": 1, "utc": true}, {"year": 1985, "month": 7, "date": 3, "utc": true}], "nice": false},
              "axis": {"title": "Predicted Snow Depletion Date", "titleFontSize": 25, "labelFontSize": 18, "tickSize": 5, "labelPadding": 8, "titlePadding": 41,
                "values": [{"year": 1985, "month": 3, "date": 1, "utc": true}, {"year": 1985, "month": 4, "date": 1, "utc": true}, {"year": 1985, "month": 5, "date": 2, "utc": true}, {"year": 1985, "month": 6, "date": 2, "utc": true}, {"year": 1985, "month": 7, "date": 3, "utc": true}],
                "labelExpr": "utcFormat(datum.value, '%d-%b')"}}
          },
          "layer": [
            {
              "data": {"name": "fitlines"},
              "mark": {"type": "line", "color": "#333", "strokeWidth": 1.1, "strokeCap": "round", "clip": true},
              "encoding": {
                "strokeDash": {"field": "line", "type": "nominal", "scale": {"domain": ["fit", "upper", "lower"], "range": [[1, 0], [1, 6.5], [1, 6.5]]}, "legend": null}
              }
            },
            {
              "data": {"name": "sites"},
              "mark": {"type": "circle", "size": 9, "color": "#222", "opacity": 1}
            },
            {
              "data": {"name": "sites"},
              "mark": {"type": "text", "fontSize": 11, "color": "#222", "dy": -9, "align": "center", "baseline": "middle"},
              "encoding": {"text": {"field": "site"}}
            },
            {
              "data": {"values": [{"observed": "1985-04-19T05:00:00Z", "predicted": "1985-06-22T07:00:00Z", "label": "R =0.91, y=1.01x + 0.0"}]},
              "mark": {"type": "text", "fontSize": 18, "color": "#333", "align": "left", "baseline": "middle"},
              "encoding": {"text": {"field": "label"}}
            },
            {
              "data": {"values": [{"observed": "1985-04-22T14:00:00Z", "predicted": "1985-06-26T14:00:00Z", "label": "2"}]},
              "mark": {"type": "text", "fontSize": 13, "color": "#333", "align": "center", "baseline": "middle"},
              "encoding": {"text": {"field": "label"}}
            },
            {
              "data": {"values": [{"observed": "1985-06-01T12:00:00Z", "observed_end": "1985-06-17T02:00:00Z", "predicted": "1985-06-23"}]},
              "mark": {"type": "rule", "color": "#333", "strokeWidth": 1},
              "encoding": {"x2": {"field": "observed_end"}}
            },
            {
              "data": {"values": [{"observed": "1985-06-19T17:00:00Z", "predicted": "1985-06-23"}]},
              "mark": {"type": "point", "shape": "M-1,-0.8L1,0L-1,0.8Z", "size": 676, "filled": true, "fill": "#ffffff", "stroke": "#333", "strokeWidth": 1, "opacity": 1}
            },
            {
              "data": {"values": [{"observed": "1985-06-28T05:00:00Z", "predicted": "1985-06-08T05:00:00Z", "label": "b"}]},
              "mark": {"type": "text", "fontSize": 20, "color": "#333", "align": "center", "baseline": "middle"},
              "encoding": {"text": {"field": "label"}}
            },
            {
              "data": {"values": [{"observed": "1985-04-28T07:00:00Z", "predicted": "1985-03-21T19:00:00Z", "label": "Dotted lines define a 2 week interval"}]},
              "mark": {"type": "text", "fontSize": 17, "color": "#333", "align": "left", "baseline": "middle"},
              "encoding": {"text": {"field": "label"}}
            }
          ]
        }
      ]
    }
  ]
}
